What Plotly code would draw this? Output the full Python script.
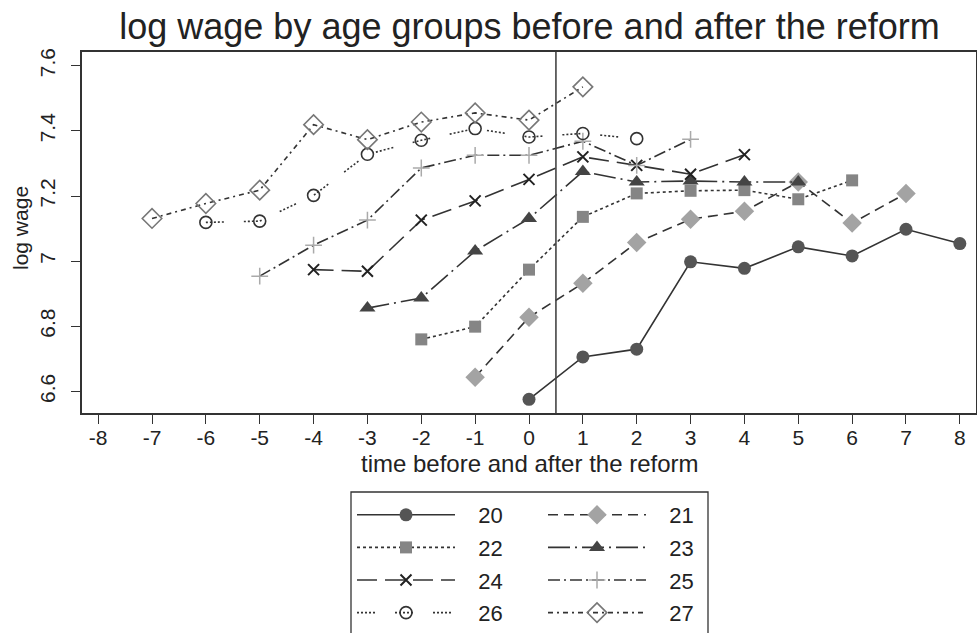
import plotly.graph_objects as go

# ---- data ----
ages = ["20", "21", "22", "23", "24", "25", "26", "27"]
t_20 = [0, 1, 2, 3, 4, 5, 6, 7, 8]
v_20 = [6.576, 6.706, 6.730, 6.998, 6.978, 7.044, 7.016, 7.098, 7.054]
t_21 = [-1, 0, 1, 2, 3, 4, 5, 6, 7]
v_21 = [6.644, 6.828, 6.932, 7.057, 7.129, 7.153, 7.243, 7.117, 7.208]
t_22 = [-2, -1, 0, 1, 2, 3, 4, 5, 6]
v_22 = [6.760, 6.799, 6.974, 7.136, 7.208, 7.216, 7.218, 7.190, 7.248]
t_23 = [-3, -2, -1, 0, 1, 2, 3, 4, 5]
v_23 = [6.856, 6.887, 7.031, 7.131, 7.275, 7.243, 7.246, 7.243, 7.243]
t_24 = [-4, -3, -2, -1, 0, 1, 2, 3, 4]
v_24 = [6.974, 6.969, 7.126, 7.185, 7.251, 7.320, 7.294, 7.267, 7.327]
t_25 = [-5, -4, -3, -2, -1, 0, 1, 2, 3]
v_25 = [6.954, 7.049, 7.126, 7.286, 7.325, 7.325, 7.368, 7.294, 7.374]
t_26 = [-6, -5, -4, -3, -2, -1, 0, 1, 2]
v_26 = [7.119, 7.123, 7.202, 7.328, 7.371, 7.407, 7.381, 7.392, 7.376]
t_27 = [-7, -6, -5, -4, -3, -2, -1, 0, 1]
v_27 = [7.131, 7.177, 7.218, 7.419, 7.373, 7.427, 7.455, 7.433, 7.535]

x_ticks = list(range(-8, 9))
x_tick_labels = [str(v) for v in x_ticks]
y_ticks = [6.6, 6.8, 7.0, 7.2, 7.4, 7.6]
y_tick_labels = ["6.6", "6.8", "7", "7.2", "7.4", "7.6"]
reform_time = 0.5

# ---- styles ----
LINE = "#333333"
FONT = "Liberation Sans, Arial, sans-serif"
styles = {
    "20": dict(dash="solid", symbol="circle", color="#555555", size=13, lw=0, lc="#555555"),
    "21": dict(dash="10px,6px", symbol="diamond", color="#a3a3a3", size=15, lw=0, lc="#a3a3a3"),
    "22": dict(dash="3px,3px", symbol="square", color="#858585", size=12, lw=0, lc="#858585"),
    "23": dict(dash="22px,5px,2px,5px", symbol="triangle-up", color="#444444", size=14, lw=0, lc="#444444"),
    "24": dict(dash="20px,8px", symbol="x-thin", color="#222222", size=11, lw=2, lc="#222222"),
    "25": dict(dash="12px,4px,2px,4px", symbol="cross-thin", color="#aaaaaa", size=12, lw=1.5, lc="#aaaaaa"),
    "26": dict(dash="2px,2px,2px,2px,2px,2px,2px,2px,2px,20px", symbol="circle-open", color="#333333", size=12, lw=1.6, lc="#333333"),
    "27": dict(dash="5px,4px,2px,4px", symbol="diamond-open", color="#777777", size=15, lw=1.6, lc="#777777"),
}
series = {
    "20": (t_20, v_20), "21": (t_21, v_21), "22": (t_22, v_22), "23": (t_23, v_23),
    "24": (t_24, v_24), "25": (t_25, v_25), "26": (t_26, v_26), "27": (t_27, v_27),
}

PAD = "\u00a0\u00a0\u00a0"
fig = go.Figure()
for i, a in enumerate(ages):
    s = styles[a]
    tx, vy = series[a]
    fig.add_trace(go.Scatter(
        x=tx, y=vy, name=PAD + a, mode="lines+markers",
        legend="legend" if i % 2 == 0 else "legend2",
        legendgroup=a,
        line=dict(color=LINE, width=1.6, dash=s["dash"]),
        marker=dict(symbol=s["symbol"], size=s["size"], color=s["color"],
                    line=dict(width=s["lw"], color=s["lc"])),
    ))

fig.add_shape(type="line", xref="x", yref="paper", x0=reform_time, x1=reform_time,
              y0=0, y1=1, line=dict(color="#444444", width=1.6))

# legend frame
fig.add_shape(type="rect", xref="paper", yref="paper",
              x0=(351 - 82) / 894, x1=(708 - 82) / 894,
              y0=(413 - 640) / 361, y1=(413 - 492) / 361,
              line=dict(color="#333333", width=1.3), fillcolor="rgba(0,0,0,0)")

# axis titles
fig.add_annotation(text="log wage", xref="paper", yref="paper",
                   x=(20 - 82) / 894, y=(413 - 228) / 361, xanchor="center", yanchor="middle",
                   textangle=-90, showarrow=False,
                   font=dict(family=FONT, size=21, color="#222222"))
fig.add_annotation(text="time before and after the reform", xref="paper", yref="paper",
                   x=(530 - 82) / 894, y=(413 - 463) / 361, xanchor="center", yanchor="middle",
                   showarrow=False,
                   font=dict(family=FONT, size=24, color="#222222"))

legend_common = dict(
    xref="container", yref="container", xanchor="left", yanchor="top",
    orientation="v", font=dict(family=FONT, size=22, color="#222222"),
    bgcolor="rgba(0,0,0,0)", borderwidth=0, tracegroupgap=1,
    itemclick=False, itemwidth=98,
)

fig.update_layout(
    width=977, height=633,
    paper_bgcolor="white", plot_bgcolor="white",
    margin=dict(l=82, r=1, t=52, b=220, autoexpand=False),
    font=dict(family=FONT, color="#222222"),
    title=dict(text="log wage by age groups before and after the reform",
               x=0.542, xanchor="center", y=1 - 26 / 633, yanchor="middle",
               font=dict(family=FONT, size=36, color="#222222")),
    xaxis=dict(range=[-8.3, 8.3], tickvals=x_ticks, ticktext=x_tick_labels,
               ticks="outside", ticklen=9,
               tickcolor="#333333", tickwidth=1.3, showgrid=False, zeroline=False,
               showline=True, linecolor="#333333", linewidth=1.5, mirror=True,
               ticklabelstandoff=-4,
               tickfont=dict(family=FONT, size=21, color="#222222")),
    yaxis=dict(range=[6.534, 7.642], tickvals=y_ticks, ticktext=y_tick_labels,
               ticks="outside", ticklen=9, tickcolor="#333333", tickwidth=1.3,
               tickangle=-90, showgrid=False, zeroline=False,
               showline=True, linecolor="#333333", linewidth=1.5, mirror=True,
               ticklabelstandoff=8,
               tickfont=dict(family=FONT, size=21, color="#222222")),
    legend=dict(x=352 / 977, y=1 - 494 / 633, **legend_common),
    legend2=dict(x=543 / 977, y=1 - 494 / 633, **legend_common),
)

fig.write_html("out.html", config={"displayModeBar": False},
               post_script="document.body.style.margin='0';")
